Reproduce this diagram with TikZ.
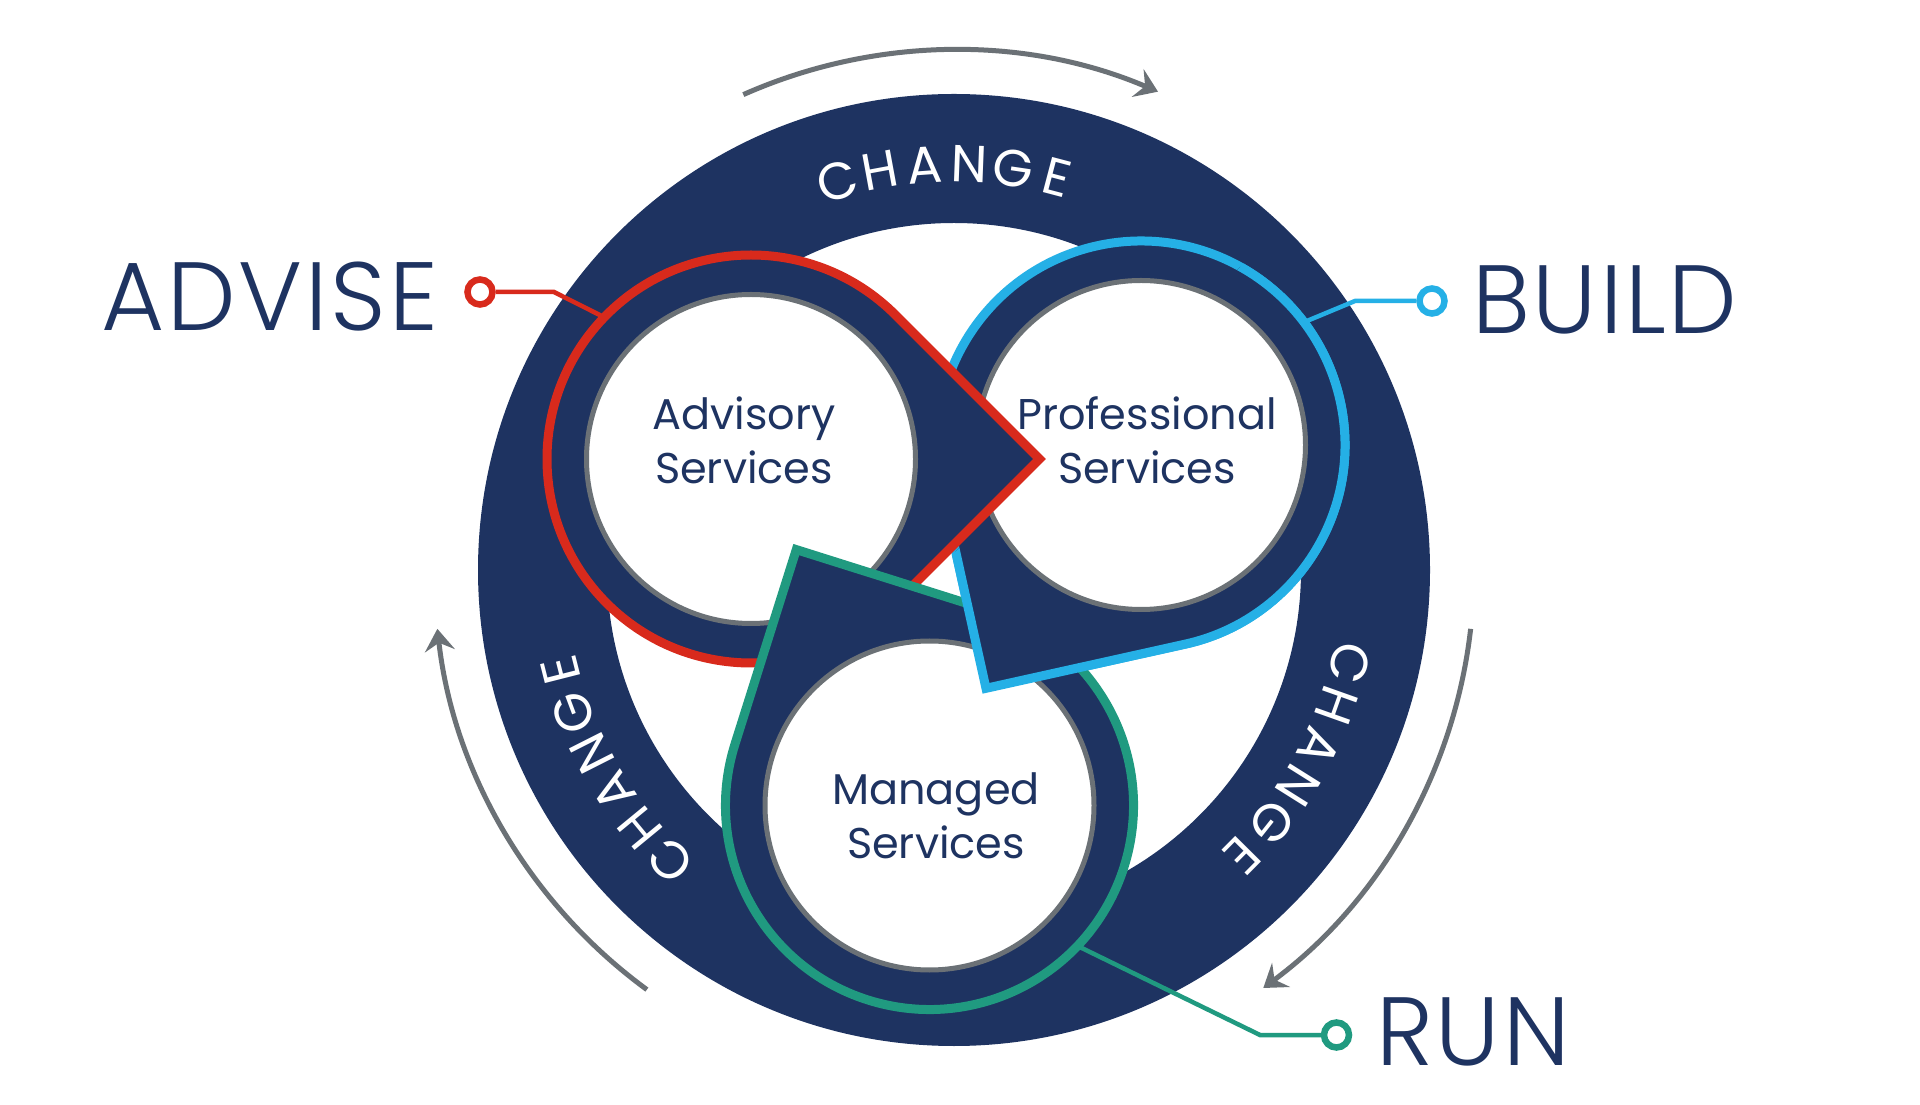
\documentclass[tikz,border=0pt]{standalone}
\usepackage{fontspec}
\setmainfont{Poppins}
\newfontfamily\lightfont{Poppins}[UprightFont=* Light, LetterSpace=3]
\usetikzlibrary{calc,arrows.meta}
\definecolor{navy}{HTML}{1E3361}
\definecolor{ared}{HTML}{D82A1C}
\definecolor{bblue}{HTML}{25B0E6}
\definecolor{mteal}{HTML}{209A80}
\definecolor{ggray}{HTML}{6B7176}
\newcommand\dropshape[3]{%
  \filldraw[fill=navy, draw=#3, line width=9pt, line join=miter]
    ($(#1)+(#2+45:204)$) -- ($(#1)+(#2:288.5)$) -- ($(#1)+(#2-45:204)$)
    arc[start angle=#2-45, end angle=#2-315, radius=204] -- cycle;
  \filldraw[fill=white, draw=ggray, line width=5pt] (#1) circle[radius=164.5];
}
\tikzset{
  svc/.style={text=navy, font=\fontsize{43}{54}\selectfont, inner sep=0pt, align=center},
  biglab/.style={text=navy, font=\lightfont\fontsize{97}{100}\selectfont, inner sep=0pt, anchor=base west},
  chg/.style={text=white, font=\fontsize{52}{60}\selectfont, inner sep=0pt},
  garrow/.style={draw=ggray, line width=5pt, -{Stealth[length=22pt,width=30pt,inset=8pt]}},
  lead/.style={line width=4.5pt},
  dotnode/.style={circle, fill=white, line width=6.5pt, minimum size=25pt, inner sep=0pt}
}
\begin{document}
\begin{tikzpicture}[x=1pt,y=1pt]
\useasboundingbox (0,0) rectangle (1920,1104);
\fill[white] (0,0) rectangle (1920,1104);
% centres
\coordinate (O) at (954,534);
\coordinate (A) at (751,645);
\coordinate (P) at (1141,659);
\coordinate (M) at (929.5,298.5);
% ring
\fill[navy, even odd rule] (O) circle[radius=476] (O) circle[radius=347];
% CHANGE letters
\foreach \c [count=\i] in {C,H,A,N,G,E} {
  \pgfmathsetmacro\ang{91+(3.5-\i)*6.3}
  \node[chg, rotate=\ang-90] (ct\i) at ($(O)+(\ang:406)$) {\c};
}
\foreach \c [count=\i] in {C,H,A,N,G,E} {
  \pgfmathsetmacro\ang{-29+(3.5-\i)*6.3}
  \node[chg, rotate=\ang-90] (cr\i) at ($(O)+(\ang:406)$) {\c};
}
\foreach \c [count=\i] in {C,H,A,N,G,E} {
  \pgfmathsetmacro\ang{210+(3.5-\i)*6.3}
  \node[chg, rotate=\ang-90] (cl\i) at ($(O)+(\ang:406)$) {\c};
}
% drops (cyclic overlap)
\dropshape{P}{237.5}{bblue}
\dropshape{A}{0}{ared}
\dropshape{M}{117.5}{mteal}
\begin{scope}
  \clip (403,0) -- (1920,0) -- (1920,1104) -- (1507,1104) -- cycle;
  \begin{scope}[even odd rule]
    \clip (0,0) rectangle (1920,1104) (P) circle[radius=172];
    \filldraw[fill=navy, draw=bblue, line width=9pt, line join=miter]
      ($(P)+(237.5+45:204)$) -- ($(P)+(237.5:288.5)$) -- ($(P)+(237.5-45:204)$)
      arc[start angle=237.5-45, end angle=237.5-315, radius=204] -- cycle;
  \end{scope}
\end{scope}
% service texts
\node[svc] (tA) at (744,663.5) {Advisory\\Services};
\node[svc] (tP) at (1147,663.5) {Professional\\Services};
\node[svc] (tM) at (936,288.5) {Managed\\Services};
% leaders
\coordinate (aEnd) at ($(A)+(136:204)$);
\coordinate (aCor) at (554,812);
\node[dotnode, draw=ared] (aDot) at (480,812) {};
\draw[lead, ared] (aDot) -- (aCor) -- (aEnd);
\coordinate (bEnd) at ($(P)+(37:204)$);
\coordinate (bCor) at (1355,803);
\node[dotnode, draw=bblue] (bDot) at (1432,803) {};
\draw[lead, bblue] (bDot) -- (bCor) -- (bEnd);
\coordinate (rEnd) at ($(M)+(-43.5:204)$);
\coordinate (rCor) at (1260,69);
\node[dotnode, draw=mteal] (rDot) at (1336.5,69) {};
\draw[lead, mteal] (rDot) -- (rCor) -- (rEnd);
% labels
\node[biglab] (lAdv) at (101,773) {ADVISE};
\node[biglab] (lBld) at (1472,770) {BUILD};
\node[biglab] (lRun) at (1376,39) {RUN};
% gray arrows
\draw[garrow] ($(O)+(113.9:520)$) arc[start angle=113.9, end angle=66.9, radius=520];
\draw[garrow] ($(O)+(-6.5:520)$) arc[start angle=-6.5, end angle=-53.5, radius=520];
\draw[garrow] ($(O)+(233.8:520)$) arc[start angle=233.8, end angle=186.5, radius=520];
\end{tikzpicture}
\end{document}
